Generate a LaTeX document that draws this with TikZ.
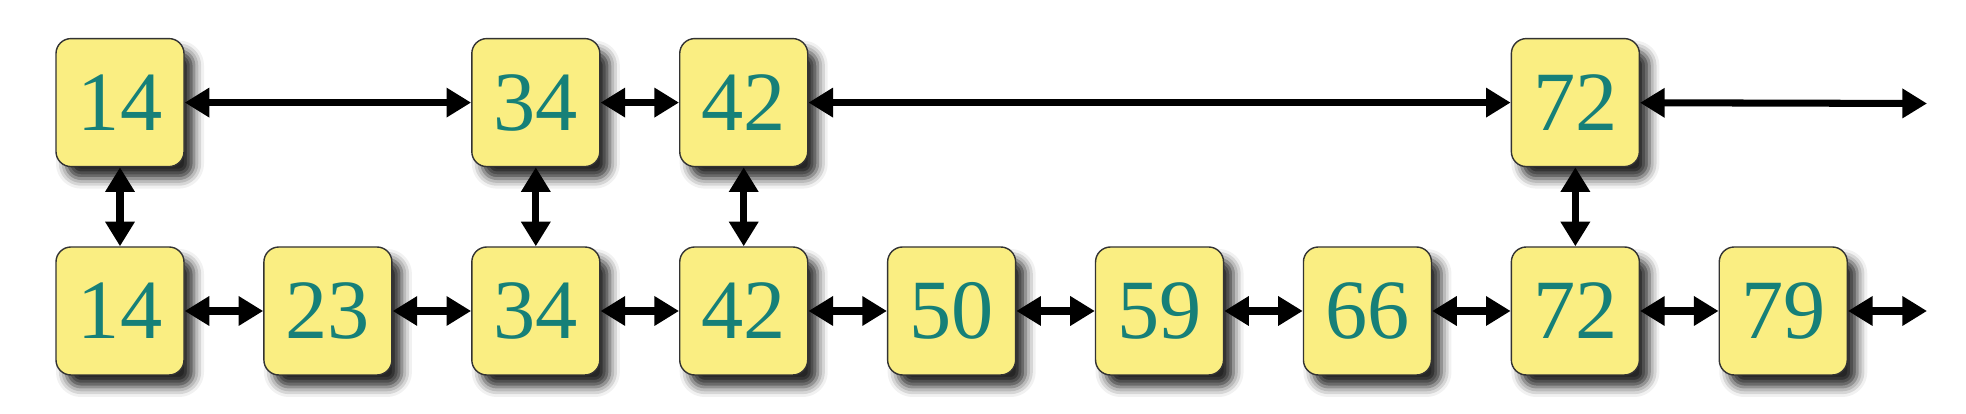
\documentclass[tikz,border=0pt]{standalone}
\usepackage{fontspec}
\setmainfont{Liberation Serif}
\usetikzlibrary{arrows.meta,shadows.blur,positioning}
\definecolor{keyfill}{RGB}{250,238,130}
\definecolor{keytext}{RGB}{22,128,120}

\begin{document}
\begin{tikzpicture}[>={Triangle[length=7pt,width=8pt]}, node distance=0.785cm,
    keybox/.style={draw=black!80, thin, fill=keyfill, rounded corners=0.15cm,
      minimum size=1.28cm, inner sep=0pt, text=keytext, font=\fontsize{24}{24}\selectfont,
      blur shadow={shadow xshift=0.1cm, shadow yshift=-0.12cm, shadow blur radius=0.1cm, shadow opacity=85}},
    link/.style={<->, line width=2pt}]
    \useasboundingbox (0,0) rectangle (19.66,-4.14);

    % Bottom list: all keys
    \node[keybox] (b14) at (1.20,-3.11) {14};
    \node[keybox, right=of b14] (b23) {23};
    \node[keybox, right=of b23] (b34) {34};
    \node[keybox, right=of b34] (b42) {42};
    \node[keybox, right=of b42] (b50) {50};
    \node[keybox, right=of b50] (b59) {59};
    \node[keybox, right=of b59] (b66) {66};
    \node[keybox, right=of b66] (b72) {72};
    \node[keybox, right=of b72] (b79) {79};

    % Top list: express keys
    \node[keybox, above=0.79cm of b14] (t14) {14};
    \node[keybox, above=0.79cm of b34] (t34) {34};
    \node[keybox, above=0.79cm of b42] (t42) {42};
    \node[keybox, above=0.79cm of b72] (t72) {72};

    % Open ends on the right
    \coordinate (tend) at (19.27,-1.035);
    \coordinate (bend) at (19.27,-3.11);

    % Links along the top list
    \draw[link] (t14) -- (t34);
    \draw[link] (t34) -- (t42);
    \draw[link] (t42) -- (t72);
    \draw[link] (t72) -- (tend);

    % Links along the bottom list
    \foreach \a/\b in {b14/b23, b23/b34, b34/b42, b42/b50, b50/b59, b59/b66, b66/b72, b72/b79, b79/bend}
      \draw[link] (\a) -- (\b);

    % Links between the two lists
    \foreach \k in {14,34,42,72}
      \draw[link] (t\k) -- (b\k);
\end{tikzpicture}
\end{document}
